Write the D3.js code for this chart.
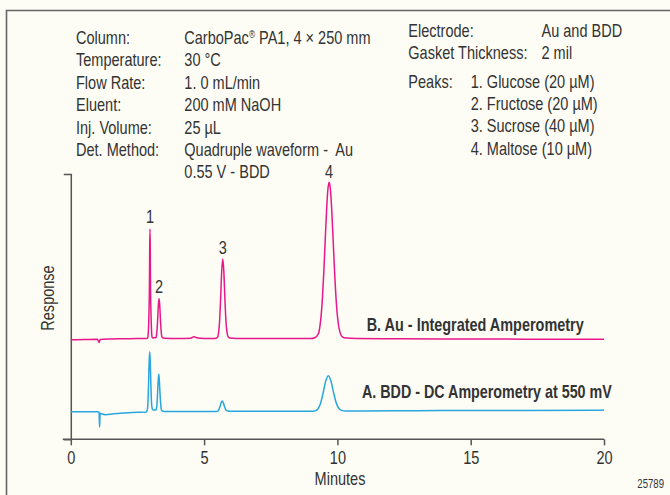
<!DOCTYPE html>
<html>
<head>
<meta charset="utf-8">
<script src="https://cdn.jsdelivr.net/npm/d3@7/dist/d3.min.js"></script>
<style>
  html, body { margin: 0; padding: 0; background: #fdfdf5; }
  svg { display: block; }
</style>
</head>
<body>
<script>
// ---------- data ----------
const xTicks = [0, 5, 10, 15, 20];

// Trace B: Au - Integrated Amperometry (pink)
const auTime = [0, 0.5, 1.0, 1.06, 1.1, 1.5, 2.0, 2.5, 2.82, 2.87, 2.89, 2.91, 2.93, 2.95, 2.96, 2.97, 2.98, 2.99, 3.01, 3.03, 3.05, 3.07,
  3.14, 3.19, 3.21, 3.235, 3.26, 3.285, 3.31, 3.335, 3.36, 3.385, 3.41, 3.435, 3.5, 4.0, 4.5, 4.62, 4.72, 5.0,
  5.4, 5.5, 5.54, 5.58, 5.62, 5.66, 5.70, 5.74, 5.78, 5.82, 5.86, 5.9, 5.96, 6.5, 7.5, 8.5, 9.0,
  9.15, 9.29, 9.34, 9.39, 9.44, 9.49, 9.54, 9.59, 9.64, 9.69, 9.74, 9.79, 9.84, 9.89, 9.94, 9.99, 10.04, 10.09, 10.15, 10.25, 10.5,
  12, 14, 16, 18, 20];
const auResp = [37.5, 37.6, 37.7, 36.5, 37.6, 37.8, 37.9, 38.0, 38.0, 38.05, 38.5, 40.6, 46.7, 58.6, 72.7, 79.2, 72.7, 58.6, 46.7, 40.6, 38.5, 38.2,
  38.3, 38.3, 38.9, 41.2, 45.55, 50.7, 53.1, 50.7, 45.55, 41.2, 38.9, 38.3, 38.1, 38.0, 38.1, 38.7, 38.3, 38.0,
  38.0, 38.4, 39.9, 44.3, 53.0, 63.2, 68.0, 63.2, 53.0, 44.5, 40.2, 38.7, 38.2, 38.0, 38.0, 38.0, 38.0,
  38.3, 39.9, 42.3, 46.6, 53.5, 63.0, 74.4, 85.5, 93.8, 96.9, 94.0, 86.0, 75.2, 64.0, 54.6, 47.6, 43.2, 40.6, 39.0, 38.3, 38.1,
  37.9, 37.8, 37.8, 37.7, 37.7];

// Trace A: BDD - DC Amperometry at 550 mV (blue)
const bddTime = [0, 0.5, 1.0, 1.06, 1.08, 1.1, 1.15, 1.3, 1.6, 2.0, 2.5, 2.84, 2.86, 2.88, 2.90, 2.92, 2.94, 2.96, 2.98, 3.00, 3.02, 3.04, 3.07,
  3.13, 3.19, 3.21, 3.235, 3.255, 3.28, 3.30, 3.32, 3.345, 3.37, 3.39, 3.42, 3.5, 4.0, 5.0,
  5.45, 5.52, 5.56, 5.60, 5.64, 5.68, 5.72, 5.76, 5.80, 5.85, 5.95, 6.5, 7.5, 8.5,
  9.1, 9.16, 9.26, 9.36, 9.46, 9.56, 9.66, 9.76, 9.86, 9.96, 10.06, 10.16, 10.3, 11, 13, 15, 17, 20];
const bddResp = [10.4, 10.4, 10.4, 10.2, 4.6, 9.8, 9.6, 9.3, 9.6, 9.9, 10.2, 10.3, 10.8, 11.9, 15.2, 21.75, 29.4, 33.0, 29.4, 21.75, 15.5, 12.4, 11.2,
  11.0, 11.0, 11.5, 13.4, 17.5, 22.3, 24.5, 22.3, 17.5, 13.6, 11.6, 10.8, 10.5, 10.5, 10.5,
  10.5, 10.75, 11.3, 12.45, 13.8, 14.4, 13.8, 12.5, 11.4, 10.8, 10.6, 10.6, 10.6, 10.6,
  10.6, 10.7, 11.35, 13.3, 17.25, 21.85, 24.0, 21.9, 17.5, 13.6, 11.6, 10.9, 10.7, 10.7, 10.8, 10.9, 10.9, 11.0];

// Peak numbers and where they sit (time, response)
const peakNames = ["1", "2", "3", "4"];
const peakTime = [2.97, 3.31, 5.70, 9.69];
const peakLabelResp = [81.5, 55.0, 69.8, 98.5];

const condLabels = ["Column:", "Temperature:", "Flow Rate:", "Eluent:", "Inj. Volume:", "Det. Method:"];
const condValues = ["CarboPac", "30 °C", "1. 0 mL/min", "200 mM NaOH", "25 µL", "Quadruple waveform -\u00a0 Au"];
const condExtra = "0.55 V - BDD";
const elecLabels = ["Electrode:", "Gasket Thickness:"];
const elecValues = ["Au and BDD", "2 mil"];
const peakList = ["1. Glucose (20 µM)", "2. Fructose (20 µM)", "3. Sucrose (40 µM)", "4. Maltose (10 µM)"];
const traceLabels = ["B. Au - Integrated Amperometry", "A. BDD - DC Amperometry at 550 mV"];

// ---------- drawing ----------
const W = 670, H = 495;
const FONT = "'Liberation Sans', Arial, Helvetica, sans-serif";
const FS = 17.5, SX = 0.83, TXT = "#333";

const svg = d3.select("body").append("svg").attr("width", W).attr("height", H);
svg.append("rect").attr("width", W).attr("height", H).attr("fill", "#fdfdf5");
svg.append("path").attr("d", `M6.5,${H} V10.5 H${W}`).attr("fill", "none")
  .attr("stroke", "#666").attr("stroke-width", 1.6);

function label(x, y, str, o = {}) {
  return svg.append("text")
    .attr("transform", `translate(${x},${y}) scale(${o.sx || SX},1)`)
    .attr("text-anchor", o.anchor || "start")
    .attr("font-family", FONT)
    .attr("font-size", o.size || FS)
    .attr("font-weight", o.weight || "normal")
    .attr("fill", o.fill || TXT)
    .text(str);
}

const x = d3.scaleLinear().domain([0, 20]).range([70.8, 604]);
const y = d3.scaleLinear().domain([0, 100]).range([439.3, 174]);

// axes
const xAxis = svg.append("g").attr("transform", `translate(0,${y(0)})`)
  .call(d3.axisBottom(x).tickValues(xTicks).tickSize(6).tickSizeOuter(0).tickFormat(d3.format("d")));
xAxis.select(".domain").attr("d", `M${x(0) - 8},0H${x(20)}`);
const yAxis = svg.append("g").attr("transform", `translate(${x(0)},0)`)
  .call(d3.axisLeft(y).tickValues([]).tickSizeOuter(7));
[xAxis, yAxis].forEach(g => {
  g.selectAll(".domain, .tick line").attr("stroke", "#555").attr("stroke-width", 1.5);
});
xAxis.selectAll(".tick text")
  .attr("font-family", FONT).attr("font-size", FS).attr("fill", TXT)
  .attr("y", 10).attr("dy", "0.85em")
  .attr("transform", `scale(${SX},1)`);

// traces
const line = d3.line().x(d => x(d[0])).y(d => y(d[1])).curve(d3.curveMonotoneX);
const auData = auTime.map((t, i) => [t, auResp[i]]);
const bddData = bddTime.map((t, i) => [t, bddResp[i]]);
svg.append("path").datum(bddData).attr("d", line).attr("fill", "none")
  .attr("stroke", "#27a6df").attr("stroke-width", 1.5).attr("stroke-linejoin", "round");
svg.append("path").datum(auData).attr("d", line).attr("fill", "none")
  .attr("stroke", "#e8178a").attr("stroke-width", 1.5).attr("stroke-linejoin", "round");

// peak numbers
peakNames.forEach((n, i) => label(x(peakTime[i]), y(peakLabelResp[i]), n, { anchor: "middle" }));

// trace labels
label(366.7, 330.5, traceLabels[0], { weight: "bold", sx: 0.825 });
label(362, 397.8, traceLabels[1], { weight: "bold", sx: 0.818 });

// axis titles
label(340, 485, "Minutes", { anchor: "middle" });
svg.append("text")
  .attr("transform", `translate(54,298) rotate(-90) scale(${SX},1)`)
  .attr("text-anchor", "middle").attr("font-family", FONT).attr("font-size", FS).attr("fill", TXT)
  .text("Response");
label(664, 488, "25789", { anchor: "end", size: 12, sx: 0.8 });

// conditions block
const rowY0 = 44, rowDY = 22.4;
condLabels.forEach((s, i) => label(76, rowY0 + i * rowDY, s));
condValues.forEach((s, i) => {
  const t = label(184.3, rowY0 + i * rowDY, s);
  if (i === 0) {
    t.append("tspan").attr("font-size", 10).attr("dy", -6).text("®");
    t.append("tspan").attr("dy", 6).text(" PA1, 4 × 250 mm");
  }
});
label(184.3, rowY0 + 6 * rowDY, condExtra);

elecLabels.forEach((s, i) => label(408.3, 36.5 + i * 22.5, s));
elecValues.forEach((s, i) => label(541.5, 36.5 + i * 22.5, s));
label(408.3, 88, "Peaks:");
peakList.forEach((s, i) => label(470.7, 88 + i * 22.2, s));
</script>
</body>
</html>
